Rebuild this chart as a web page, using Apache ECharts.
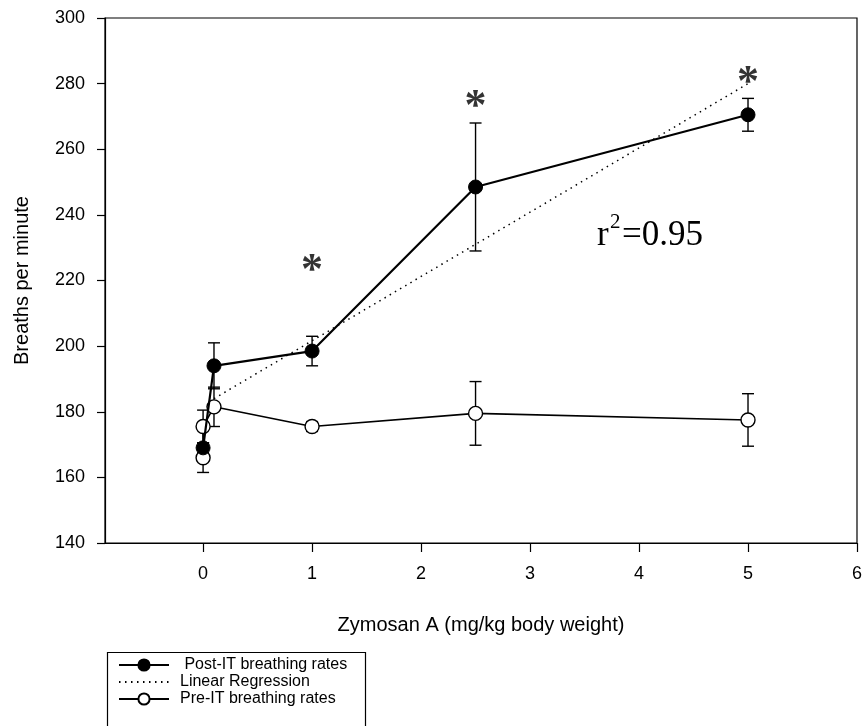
<!DOCTYPE html>
<html>
<head>
<meta charset="utf-8">
<script src="https://cdn.jsdelivr.net/npm/echarts@6/dist/echarts.min.js"></script>
<style>html,body{margin:0;padding:0;background:#fff;}#c{width:865px;height:726px;}</style>
</head>
<body>
<div id="c"></div>
<script>
// ---- data ----
const xTicks = [0, 1, 2, 3, 4, 5, 6];
const yTicks = [140, 160, 180, 200, 220, 240, 260, 280, 300];
const xAxisMin = -0.9;

const postX = [0, 0.1, 1, 2.5, 5];
const postY = [169, 194, 198.5, 248.5, 270.5];
const postErr = [1.5, 7, 4.5, 19.5, 5];

const preX = [0, 0, 0.1, 1, 2.5, 5];
const preY = [166, 175.5, 181.5, 175.5, 179.5, 177.5];
const preErr = [4.5, 5, 6, 1.5, 9.7, 8];

const regX = [0.1, 5];
const regY = [184, 280];

const starX = [1, 2.5, 5];
const starY = [225, 275, 282.5];

const seriesNames = ['Post-IT breathing rates', 'Linear Regression', 'Pre-IT breathing rates'];
const legendLabels = [' Post-IT breathing rates', 'Linear Regression', 'Pre-IT breathing rates'];
const xTitle = 'Zymosan A (mg/kg body weight)';
const yTitle = 'Breaths per minute';
const r2Text = ['r', '2', '=0.95'];

// ---- build ----
const zip = (a, b) => a.map((v, i) => [v, b[i]]);
const errData = (xs, ys, es) => xs.map((x, i) => [x, ys[i] - es[i], ys[i] + es[i]]);

function renderErr(params, api) {
  const x = api.value(0);
  const lo = api.coord([x, api.value(1)]);
  const hi = api.coord([x, api.value(2)]);
  const cap = 6;
  const style = { stroke: '#000', lineWidth: 1.4 };
  return {
    type: 'group',
    children: [
      { type: 'line', shape: { x1: lo[0], y1: lo[1], x2: hi[0], y2: hi[1] }, style },
      { type: 'line', shape: { x1: lo[0] - cap, y1: lo[1], x2: lo[0] + cap, y2: lo[1] }, style },
      { type: 'line', shape: { x1: hi[0] - cap, y1: hi[1], x2: hi[0] + cap, y2: hi[1] }, style }
    ]
  };
}

const chart = echarts.init(document.getElementById('c'), null, { renderer: 'canvas' });
const legendMap = {};
seriesNames.forEach((n, i) => legendMap[n] = legendLabels[i]);

chart.setOption({
  animation: false,
  backgroundColor: '#fff',
  textStyle: { fontFamily: 'Liberation Sans' },
  grid: { left: 105, right: 7, top: 18, bottom: 183, show: true, borderColor: '#000', borderWidth: 1.2, containLabel: false },
  xAxis: {
    type: 'value',
    min: xAxisMin,
    max: xTicks[xTicks.length - 1],
    splitNumber: xTicks.length,
    name: xTitle,
    nameLocation: 'middle',
    nameGap: 72,
    nameTextStyle: { fontSize: 20, color: '#000', fontFamily: 'Liberation Sans' },
    axisLine: { onZero: false, lineStyle: { color: '#000', width: 1.2 } },
    axisTick: { show: true, inside: false, length: 9, lineStyle: { color: '#000', width: 1.2 } },
    axisLabel: { showMinLabel: false, margin: 22, fontSize: 18, color: '#000', fontFamily: 'Liberation Sans',
      formatter: v => (Number.isInteger(v) ? String(v) : '') },
    splitLine: { show: false }
  },
  yAxis: {
    type: 'value',
    min: yTicks[0],
    max: yTicks[yTicks.length - 1],
    interval: yTicks[1] - yTicks[0],
    name: yTitle,
    nameLocation: 'middle',
    nameGap: 73,
    nameRotate: 90,
    nameTextStyle: { fontSize: 20, color: '#000', fontFamily: 'Liberation Sans' },
    axisLine: { show: true, onZero: false, lineStyle: { color: '#000', width: 1.2 } },
    axisTick: { show: true, inside: false, length: 8, lineStyle: { color: '#000', width: 1.2 } },
    axisLabel: { margin: 20, fontSize: 18, color: '#000', fontFamily: 'Liberation Sans' },
    splitLine: { show: false }
  },
  legend: {
    data: [
      { name: seriesNames[0] },
      { name: seriesNames[1], itemStyle: { opacity: 0 } },
      { name: seriesNames[2] }
    ],
    orient: 'vertical',
    left: 118,
    top: 657,
    padding: 0,
    itemGap: 1,
    itemWidth: 50,
    itemHeight: 14,
    textStyle: { fontSize: 16, color: '#000', fontFamily: 'Liberation Sans', padding: [0, 0, 0, 6] },
    formatter: n => legendMap[n],
    selectedMode: false
  },
  graphic: [
    { type: 'rect', left: 105, top: 650, shape: { width: 258, height: 120 }, style: { fill: 'none', stroke: '#000', lineWidth: 1.2 }, z: 0 },
    { type: 'text', left: 597, top: 218, style: { text: r2Text[0], font: '35px "Liberation Serif"', fill: '#000' } },
    { type: 'text', left: 610, top: 212, style: { text: r2Text[1], font: '21px "Liberation Serif"', fill: '#000' } },
    { type: 'text', left: 622, top: 218, style: { text: r2Text[2], font: '35px "Liberation Serif"', fill: '#000' } }
  ],
  series: [
    { type: 'custom', name: 'errPost', renderItem: renderErr, data: errData(postX, postY, postErr), z: 1, silent: true },
    { type: 'custom', name: 'errPre', renderItem: renderErr, data: errData(preX, preY, preErr), z: 1, silent: true },
    {
      type: 'line', name: seriesNames[1], data: zip(regX, regY), showSymbol: false, symbol: 'circle', symbolSize: 1, z: 2,
      lineStyle: { color: '#000', width: 1.5, type: [1.5, 4.5] }, itemStyle: { color: '#000', opacity: 0 }
    },
    {
      type: 'line', name: seriesNames[2], data: zip(preX, preY), symbol: 'circle', symbolSize: 14, z: 3,
      lineStyle: { color: '#000', width: 1.6 }, itemStyle: { color: '#fff', borderColor: '#000', borderWidth: 1.4 }
    },
    {
      type: 'line', name: seriesNames[0], data: zip(postX, postY), symbol: 'circle', symbolSize: 14, z: 4,
      lineStyle: { color: '#000', width: 2.2 }, itemStyle: { color: '#000', borderColor: '#000', borderWidth: 1 }
    },
    {
      type: 'scatter', name: 'stars', data: zip(starX, starY), symbol: 'circle', symbolSize: 2, z: 5, silent: true,
      itemStyle: { color: 'rgba(0,0,0,0)' },
      label: { show: true, position: 'inside', formatter: '*', fontSize: 44, fontWeight: 'bold', fontFamily: 'Liberation Serif', color: '#000', offset: [0, 8] }
    }
  ]
});
</script>
</body>
</html>
